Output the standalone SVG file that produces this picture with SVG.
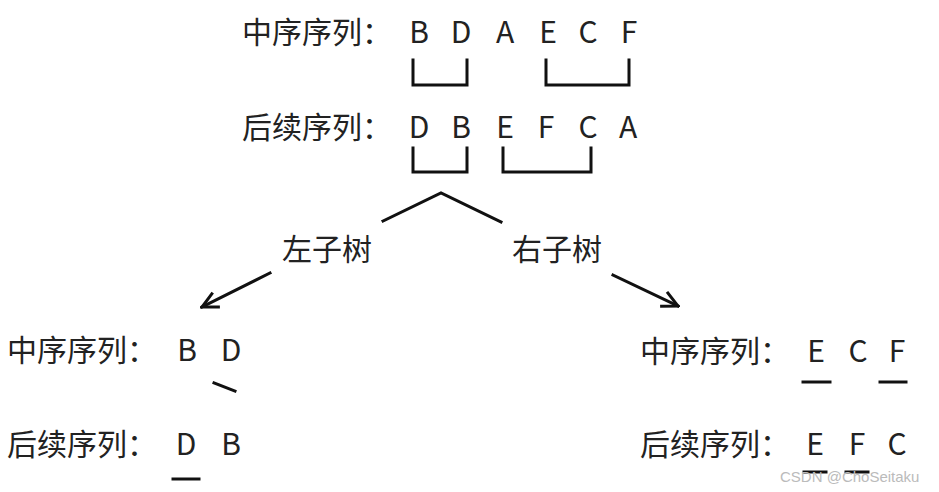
<svg xmlns="http://www.w3.org/2000/svg" width="939" height="492" viewBox="0 0 939 492">
<style>
text{font-family:"Noto Sans CJK SC","Noto Sans",sans-serif;font-size:30px;fill:#222}
.l{text-anchor:middle}
.s{fill:none;stroke:#111;stroke-width:3;stroke-linecap:square}
.wm{font-family:"Liberation Sans",Arial,sans-serif;font-size:15px;fill:#bbb}
</style>
<defs>
<marker id="ah" viewBox="0 0 20 20" refX="18" refY="10" markerWidth="20" markerHeight="20" markerUnits="userSpaceOnUse" orient="auto">
<path d="M2,2 L18,10 L2,18" fill="none" stroke="#111" stroke-width="3"/>
</marker>
</defs>
<g id="top-inorder">
<text x="242" y="43">中序序列：</text>
<text class="l" x="419" y="43">B</text><text class="l" x="461" y="43">D</text><text class="l" x="505" y="43">A</text><text class="l" x="548" y="43">E</text><text class="l" x="588" y="43">C</text><text class="l" x="629" y="43">F</text>
</g>
<g id="top-postorder">
<text x="242" y="138">后续序列：</text>
<text class="l" x="419" y="138">D</text><text class="l" x="461" y="138">B</text><text class="l" x="505" y="138">E</text><text class="l" x="546" y="138">F</text><text class="l" x="588" y="138">C</text><text class="l" x="628" y="138">A</text>
</g>
<g id="left-subtree">
<text x="7" y="361">中序序列：</text>
<text class="l" x="187" y="361">B</text><text class="l" x="231" y="361">D</text>
<text x="7" y="455">后续序列：</text>
<text class="l" x="186" y="455">D</text><text class="l" x="231" y="455">B</text>
</g>
<g id="right-subtree">
<text x="640" y="362">中序序列：</text>
<text class="l" x="816" y="362">E</text><text class="l" x="858" y="362">C</text><text class="l" x="897" y="362">F</text>
<text x="640" y="455">后续序列：</text>
<text class="l" x="815" y="455">E</text><text class="l" x="857" y="455">F</text><text class="l" x="897" y="455">C</text>
</g>
<g id="labels">
<text x="282" y="260">左子树</text>
<text x="512" y="260">右子树</text>
</g>
<g id="connectors">
<path class="s" d="M413,60 V85 H467 V60"/>
<path class="s" d="M546,60 V85 H629 V60"/>
<path class="s" d="M413,148 V172 H467 V148"/>
<path class="s" d="M503,148 V172 H591 V148"/>
<path class="s" d="M383,221 L441,193 L501,222" stroke-linecap="butt"/>
<line class="s" x1="270" y1="273" x2="202" y2="307" marker-end="url(#ah)" stroke-linecap="butt"/>
<line class="s" x1="613" y1="275" x2="678" y2="306" marker-end="url(#ah)" stroke-linecap="butt"/>
<line class="s" x1="214" y1="383" x2="235" y2="391" stroke-linecap="butt"/>
<line class="s" x1="173" y1="479" x2="199" y2="479" stroke-linecap="butt"/>
<line class="s" x1="803" y1="382" x2="830" y2="382" stroke-linecap="butt"/>
<line class="s" x1="880" y1="382" x2="906" y2="382" stroke-linecap="butt"/>
<line class="s" x1="804" y1="472" x2="826" y2="472" stroke-linecap="butt"/>
<line class="s" x1="846" y1="472" x2="868" y2="472" stroke-linecap="butt"/>
</g>
<text class="wm" x="780" y="482">CSDN @ChoSeitaku</text>
</svg>
